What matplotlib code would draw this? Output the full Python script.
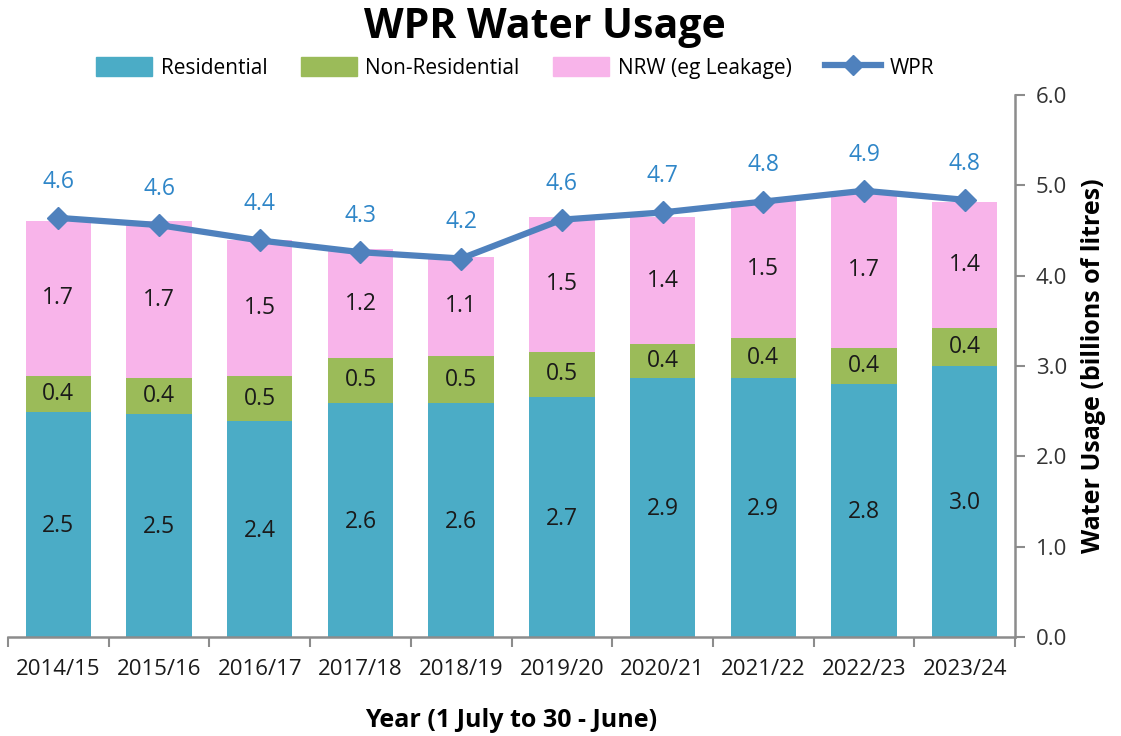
import matplotlib
matplotlib.use("Agg")
import matplotlib.pyplot as plt
from matplotlib.lines import Line2D
from matplotlib.patches import Patch
import numpy as np

years = ["2014/15", "2015/16", "2016/17", "2017/18", "2018/19",
         "2019/20", "2020/21", "2021/22", "2022/23", "2023/24"]
residential = [2.49, 2.47, 2.39, 2.59, 2.59, 2.66, 2.87, 2.87, 2.80, 3.00]
non_residential = [0.40, 0.40, 0.50, 0.50, 0.52, 0.50, 0.37, 0.44, 0.40, 0.42]
nrw = [1.72, 1.73, 1.51, 1.20, 1.10, 1.49, 1.41, 1.52, 1.73, 1.40]
wpr = [4.64, 4.56, 4.39, 4.26, 4.19, 4.62, 4.70, 4.82, 4.94, 4.84]

plt.rcParams['font.family'] = ['Open Sans', 'DejaVu Sans']

C_RES = "#4BACC6"
C_NON = "#9BBB59"
C_NRW = "#F8B4EA"
C_LINE = "#4F81BD"
C_LBL = "#2F86C8"
C_AX = "#8C8C8C"

fig = plt.figure(figsize=(11.21, 7.36), dpi=100)
ax = fig.add_axes([8/1121, (736-637)/736, (1015-8)/1121, (637-95)/736])

x = np.arange(len(years))
w = 0.65
res = np.array(residential)
non = np.array(non_residential)
nr = np.array(nrw)
ax.bar(x, res, w, color=C_RES, zorder=2)
ax.bar(x, non, w, bottom=res, color=C_NON, zorder=2)
ax.bar(x, nr, w, bottom=res + non, color=C_NRW, zorder=2)
ax.plot(x, wpr, color=C_LINE, lw=4.5, marker='D', ms=11, zorder=3)

fs = 16.5
for i in range(len(x)):
    ax.text(x[i], res[i] / 2 - 0.02, f"{res[i]:.1f}", ha='center', va='center', fontsize=fs, color='#1a1a1a', zorder=4)
    ax.text(x[i], res[i] + non[i] / 2, f"{non[i]:.1f}", ha='center', va='center', fontsize=fs, color='#1a1a1a', zorder=4)
    ax.text(x[i], res[i] + non[i] + nr[i] / 2, f"{nr[i]:.1f}", ha='center', va='center', fontsize=fs, color='#1a1a1a', zorder=4)
    ax.text(x[i], wpr[i] + 0.40, f"{wpr[i]:.1f}", ha='center', va='center', fontsize=fs, color=C_LBL, zorder=4)

ax.set_xlim(-0.5, len(years) - 0.5)
ax.set_ylim(0, 6)
ax.yaxis.tick_right()
ax.yaxis.set_label_position('right')
ax.set_yticks(np.arange(0, 6.01, 1.0))
ax.set_yticklabels([f"{v:.1f}" for v in np.arange(0, 6.01, 1.0)], fontsize=16, color='#333333')
ax.set_xticks(x)
ax.set_xticklabels(years, fontsize=16, color='#1a1a1a')
ax.tick_params(axis='x', length=0, pad=16)
ax.set_xticks(np.arange(-0.5, len(years), 1.0), minor=True)
ax.tick_params(axis='x', which='minor', length=7, color=C_AX, width=1.5)
ax.tick_params(axis='y', length=7, color=C_AX, width=1.5, pad=8)
for s in ['top', 'left']:
    ax.spines[s].set_visible(False)
for s in ['bottom', 'right']:
    ax.spines[s].set_color(C_AX)
    ax.spines[s].set_linewidth(1.8)

ax.set_ylabel("Water Usage (billions of litres)", fontsize=18, fontweight='bold', labelpad=10)
ax.set_xlabel("Year (1 July to 30 - June)", fontsize=18, fontweight='bold', labelpad=20)

fig.text(545/1121, 1 - 28/736, "WPR Water Usage", ha='center', va='center', fontsize=29.5, fontweight='bold')

handles = [Patch(color=C_RES), Patch(color=C_NON), Patch(color=C_NRW),
           Line2D([0], [0], color=C_LINE, lw=4.5, marker='D', ms=10)]
labels = ["Residential", "Non-Residential", "NRW (eg Leakage)", "WPR"]
fig.legend(handles, labels, loc='center', bbox_to_anchor=(515/1121, 1 - 68/736), ncol=4,
           frameon=False, fontsize=15, handlelength=2.7, handleheight=1.0, columnspacing=1.6, handletextpad=0.4)

fig.savefig("out.png", dpi=100)
